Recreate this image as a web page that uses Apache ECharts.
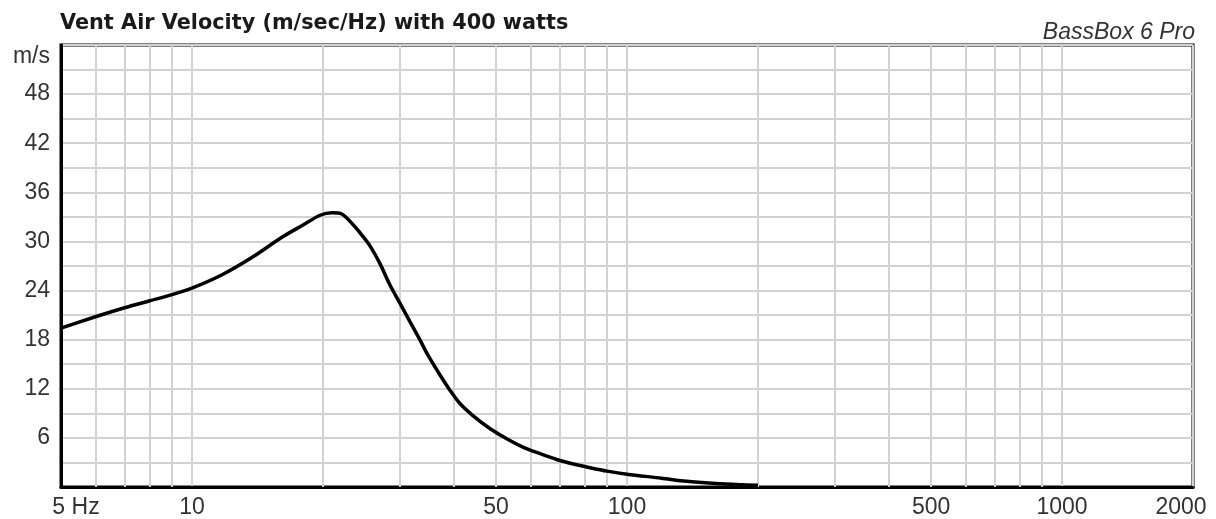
<!DOCTYPE html>
<html>
<head>
<meta charset="utf-8">
<script src="https://cdn.jsdelivr.net/npm/echarts@6/dist/echarts.min.js"></script>
<style>html,body{margin:0;padding:0;background:#fff;}#c{width:1216px;height:519px;}</style>
</head>
<body>
<div id="c"></div>
<script>
// ---- data ----
const freqHz = [5, 6, 7, 8, 9, 10, 11.7, 13.7, 16.2, 18, 19.7, 21, 22.1, 23.5, 24.6, 25.7, 27.1, 28.5, 30.1, 31.7, 33.4, 34.9, 37.2, 39.2, 41.3, 44.3, 48.4, 52.9, 57.8, 63.1, 68.9, 75.3, 82.2, 90, 100, 120, 137, 157, 180, 200];
const velocity = [19.4, 20.8, 21.9, 22.75, 23.5, 24.3, 25.9, 28.0, 30.6, 32.0, 33.2, 33.5, 33.35, 32.0, 30.75, 29.4, 27.2, 24.7, 22.4, 20.2, 18.0, 16.07, 13.65, 11.8, 10.2, 8.7, 7.15, 5.9, 4.85, 4.07, 3.36, 2.81, 2.36, 1.94, 1.56, 1.08, 0.7, 0.45, 0.3, 0.2];
const xGridFreqs = [6, 7, 8, 9, 20, 30, 40, 50, 60, 70, 80, 90, 200, 300, 400, 500, 600, 700, 800, 900];
const xExtraLabels = [50, 500];
const yTicks = [6, 12, 18, 24, 30, 36, 42, 48];
const titleText = 'Vent Air Velocity (m/sec/Hz) with 400 watts';
const brandText = 'BassBox 6 Pro';
const yUnit = 'm/s';
const xUnitLabel = '5 Hz';

const GRID = '#d2d2d2';
const LABEL_FONT = 'Liberation Sans, Arial, sans-serif';
const chart = echarts.init(document.getElementById('c'), null, {renderer: 'canvas'});

const gridLines = xGridFreqs.map(f => {
  const item = {xAxis: f};
  if (xExtraLabels.indexOf(f) >= 0) {
    item.label = {show: true, formatter: String(f)};
  }
  return item;
});

chart.setOption({
  animation: false,
  backgroundColor: '#ffffff',
  title: [
    {text: titleText, left: 60, top: 13, padding: 0,
     textStyle: {fontFamily: 'DejaVu Sans', fontWeight: 'bold', fontSize: 20.8, color: '#1a1a1a'}},
    {text: brandText, right: 21, top: 21, padding: 0,
     textStyle: {fontFamily: LABEL_FONT, fontStyle: 'italic', fontWeight: 'normal', fontSize: 23, color: '#333'}}
  ],
  grid: {left: 61, right: 23, top: 45, bottom: 32, show: true, borderColor: '#000', borderWidth: 3, backgroundColor: 'transparent'},
  xAxis: {
    type: 'log', logBase: 10, min: 5, max: 2000,
    axisLine: {show: true, lineStyle: {color: '#000', width: 3}},
    axisTick: {show: false},
    splitLine: {show: true, lineStyle: {color: GRID, width: 2}},
    axisLabel: {
      margin: 9, fontFamily: LABEL_FONT, fontSize: 23, color: '#333',
      formatter: v => {
        const r = Math.round(v);
        if (r === 5) return '{a|' + xUnitLabel + '}';
        if (r === 2000) return '{b|2000}';
        return String(r);
      },
      rich: {
        a: {fontFamily: LABEL_FONT, fontSize: 23, color: '#333', padding: [0, 0, 0, 30]},
        b: {fontFamily: LABEL_FONT, fontSize: 23, color: '#333', padding: [0, 24, 0, 0]}
      }
    }
  },
  yAxis: {
    type: 'value', min: 0, max: 54, interval: 3,
    axisLine: {show: true, lineStyle: {color: '#000', width: 3}},
    axisTick: {show: false},
    splitLine: {show: true, lineStyle: {color: GRID, width: 2}},
    axisLabel: {
      margin: 11, fontFamily: LABEL_FONT, fontSize: 23, color: '#333',
      formatter: v => {
        if (v === 54) return '{u|' + yUnit + '}';
        return yTicks.indexOf(v) >= 0 ? String(v) : '';
      },
      rich: {u: {fontFamily: LABEL_FONT, fontSize: 23, color: '#333', padding: [24, 0, 0, 0]}}
    }
  },
  series: [
    {
      type: 'line', z: 1, silent: true,
      data: freqHz.map((f, i) => [f, velocity[i]]),
      showSymbol: false, lineStyle: {opacity: 0},
      markLine: {
        silent: true, symbol: 'none', animation: false,
        lineStyle: {color: GRID, width: 2, type: 'solid'},
        label: {show: false, position: 'start', distance: 9, fontFamily: LABEL_FONT, fontSize: 23, color: '#333'},
        emphasis: {disabled: true},
        data: gridLines
      }
    },
    {
      type: 'line', z: 5,
      data: freqHz.map((f, i) => [f, velocity[i]]),
      smooth: 0.3, showSymbol: false,
      lineStyle: {color: '#000', width: 3.5}
    }
  ]
});
</script>
</body>
</html>
